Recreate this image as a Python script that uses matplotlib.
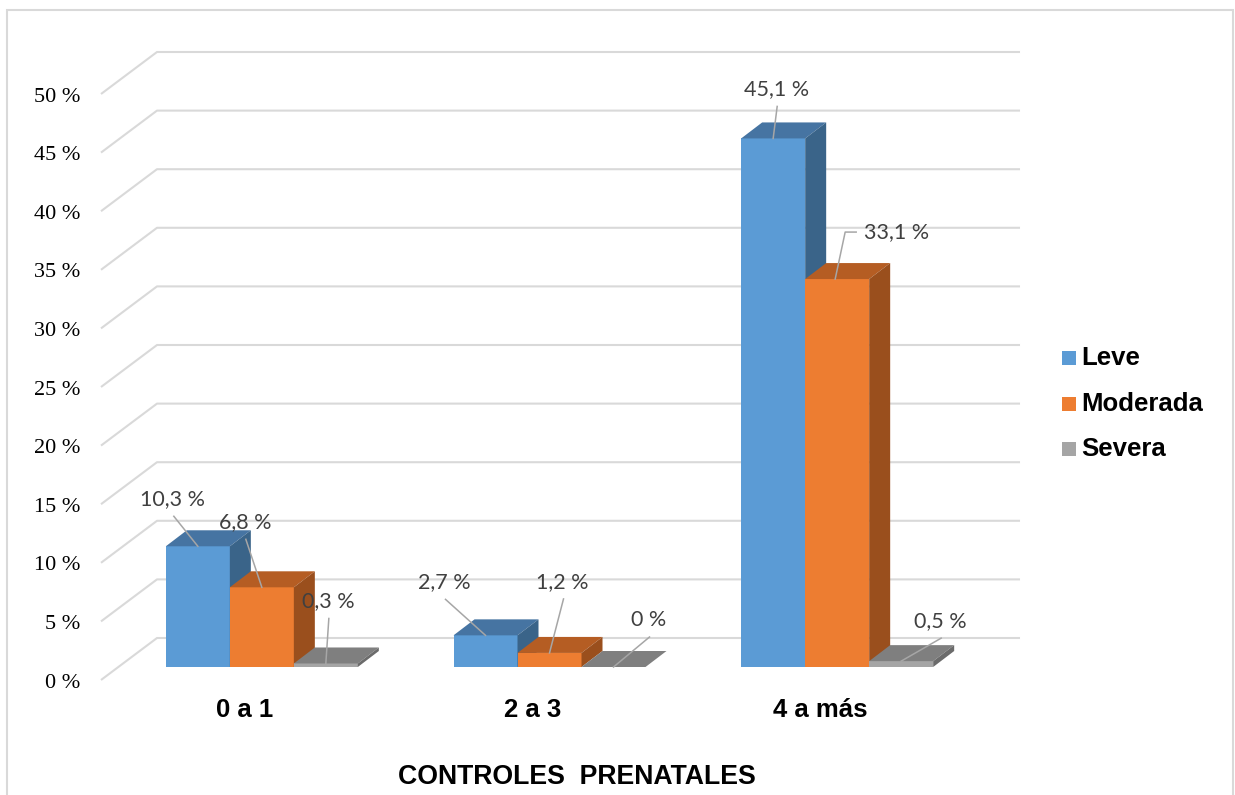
import matplotlib
matplotlib.use("Agg")
import matplotlib.pyplot as plt
from matplotlib.patches import Polygon, Rectangle

# ---------------- data ----------------
categories = ["0 a 1", "2 a 3", "4 a más"]
series_names = ["Leve", "Moderada", "Severa"]
leve = [10.3, 2.7, 45.1]
moderada = [6.8, 1.2, 33.1]
severa = [0.3, 0.0, 0.5]
y_ticks = [0, 5, 10, 15, 20, 25, 30, 35, 40, 45, 50]
y_tick_labels = ["0 %", "5 %", "10 %", "15 %", "20 %", "25 %", "30 %", "35 %", "40 %", "45 %", "50 %"]
x_title = "CONTROLES  PRENATALES"

values = [leve, moderada, severa]

# ---------------- style ----------------
plt.rcParams["font.serif"] = ["Liberation Serif", "DejaVu Serif"]
W_PX, H_PX = 1235, 795
PX = 287.67      # pixels per category unit
PY = 11.72       # pixels per percent
X_LEFT_PX = 118  # pixel of x = -0.5 on bar plane
Y0_PX = 667      # pixel row (from top) of value 0 on bar plane

front_cols = ["#5B9BD5", "#ED7D31", "#A5A5A5"]
top_cols = ["#4674A2", "#B55D23", "#7F7F7F"]
side_cols = ["#3A6489", "#9A4F1D", "#6B6B6B"]
grid_col = "#D9D9D9"
lab_col = "#404040"
lead_col = "#A6A6A6"

def dx(p):
    return p / PX

def dy(p):
    return p / PY

fig = plt.figure(figsize=(W_PX / 100, H_PX / 100), dpi=100)
ax = fig.add_axes([0, 0, 1, 1])
ax.set_xlim(-0.5 - X_LEFT_PX / PX, -0.5 + (W_PX - X_LEFT_PX) / PX)
ax.set_ylim(-(H_PX - Y0_PX) / PY, Y0_PX / PY)
ax.axis("off")

# outer border
fig.patches.append(Rectangle((7 / W_PX, -0.02), 1226 / W_PX, (H_PX - 10) / H_PX + 0.02,
                             transform=fig.transFigure, fill=False,
                             edgecolor=grid_col, lw=1.5))

# walls (gridlines)
BACK_DX, BACK_DY = dx(39), dy(29)
FRONT_DX, FRONT_DY = dx(-17), dy(-13)
x_min, x_max = -0.5, len(categories) - 0.5
for t, tl in zip(y_ticks, y_tick_labels):
    ax.plot([x_min + FRONT_DX, x_min + BACK_DX, x_max + BACK_DX],
            [t + FRONT_DY, t + BACK_DY, t + BACK_DY],
            color=grid_col, lw=1.5, zorder=1, solid_capstyle="butt")
    ax.text(x_min + dx(-38), t + FRONT_DY - dy(3), tl, ha="right", va="center",
            fontsize=16, family=["Liberation Serif", "DejaVu Serif"], color="#000000")

# bars
BW = dx(64)
DDX, DDY = dx(21), dy(16)
for k, vals in enumerate(values):
    lefts = [i - 1.5 * BW + k * BW for i in range(len(categories))]
    ax.bar(lefts, vals, width=BW, align="edge", color=front_cols[k],
           edgecolor="none", zorder=3 + k, label=series_names[k])
    for l, v in zip(lefts, vals):
        top = Polygon([(l, v), (l + BW, v), (l + BW + DDX, v + DDY), (l + DDX, v + DDY)],
                      closed=True, facecolor=top_cols[k], edgecolor="none", zorder=3 + k)
        side = Polygon([(l + BW, 0), (l + BW + DDX, DDY), (l + BW + DDX, v + DDY), (l + BW, v)],
                       closed=True, facecolor=side_cols[k], edgecolor="none", zorder=3 + k)
        ax.add_patch(top)
        ax.add_patch(side)

# data labels (offsets in pixels from bar top-front centre)
label_offsets = [
    [(-25, 47), (-41, 53), (3, 49)],
    [(-17, 65), (13, 71), (59, 47)],
    [(2, 62), (35, 47), (39, 40)],
]
for k, vals in enumerate(values):
    for i, v in enumerate(vals):
        cx = i - 1.5 * BW + k * BW + BW / 2
        ox, oy = label_offsets[k][i]
        lx, ly = cx + dx(ox), v + dy(oy)
        txt = ("%g" % v).replace(".", ",") + " %"
        ax.text(lx, ly, txt, ha="center", va="center", fontsize=15.5,
                family="Lato", color=lab_col, zorder=10)
        if k == 1 and i == 2:
            ax.plot([lx - dx(40), lx - dx(51), cx - dx(2)],
                    [ly, ly, v], color=lead_col, lw=1.1, zorder=9)
        else:
            ax.plot([lx + dx(1), cx], [ly - dy(17), v], color=lead_col, lw=1.1, zorder=9)

# category labels
for i, c in enumerate(categories):
    ax.text(i + FRONT_DX, dy(-43), c, ha="center", va="center", fontsize=18.5,
            fontweight="bold", family="Liberation Sans", color="#000000")

# axis title
ax.text(1 + dx(27), dy(-110), x_title, ha="center", va="center", fontsize=19.2,
        fontweight="bold", family="Liberation Sans", color="#000000")

# legend
leg_y_px = [358, 404, 449]
for k, name in enumerate(series_names):
    yc = (H_PX - leg_y_px[k]) / H_PX
    fig.patches.append(Rectangle((1062 / W_PX, yc - 7 / H_PX), 14 / W_PX, 14 / H_PX,
                                 transform=fig.transFigure, facecolor=front_cols[k],
                                 edgecolor="none"))
    fig.text(1081 / W_PX, yc, name, ha="left", va="center", fontsize=18.5,
             fontweight="bold", family="Liberation Sans", color="#000000")

fig.savefig("out.png", dpi=100, facecolor="white")
